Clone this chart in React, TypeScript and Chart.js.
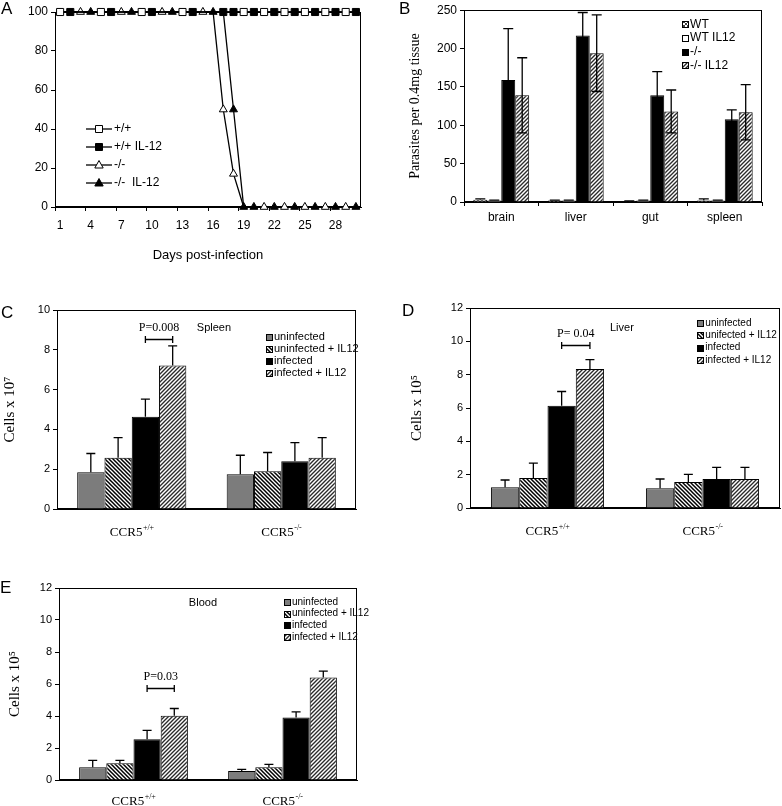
import React, { useEffect, useRef } from 'react';
import { Chart, registerables } from 'chart.js';

Chart.register(...registerables);

const SANS = "'Liberation Sans', Arial, sans-serif";
const NARROW = "'Liberation Sans Narrow', 'Liberation Sans', Arial, sans-serif";
const SERIF = "'Liberation Serif', 'Times New Roman', serif";

// ---------------- Panel A data ----------------
const daysA = ['1', '2', '3', '4', '5', '6', '7', '8', '9', '10', '11', '12', '13', '14', '15', '16', '17', '18', '19', '20', '21', '22', '23', '24', '25', '26', '27', '28', '29', '30'];
const survWT = [100, 100, 100, 100, 100, 100, 100, 100, 100, 100, 100, 100, 100, 100, 100, 100, 100, 100, 100, 100, 100, 100, 100, 100, 100, 100, 100, 100, 100, 100];
const survWTIL12 = [100, 100, 100, 100, 100, 100, 100, 100, 100, 100, 100, 100, 100, 100, 100, 100, 100, 100, 100, 100, 100, 100, 100, 100, 100, 100, 100, 100, 100, 100];
const survKO = [100, 100, 100, 100, 100, 100, 100, 100, 100, 100, 100, 100, 100, 100, 100, 100, 50, 17, 0, 0, 0, 0, 0, 0, 0, 0, 0, 0, 0, 0];
const survKOIL12 = [100, 100, 100, 100, 100, 100, 100, 100, 100, 100, 100, 100, 100, 100, 100, 100, 100, 50, 0, 0, 0, 0, 0, 0, 0, 0, 0, 0, 0, 0];
const survLabels = ['+/+', '+/+ IL-12', '-/-', '-/-  IL-12'];
// days on which each series' marker is visible (style)
const mkWT = [1, 5, 9, 13, 19, 21, 23, 25, 27, 29];
const mkWTIL12 = [2, 6, 10, 14, 17, 18, 20, 22, 24, 26, 28, 30];
const mkKO = [3, 7, 11, 15, 17, 18, 21, 23, 25, 27, 29];
const mkKOIL12 = [4, 8, 12, 16, 18, 19, 20, 22, 24, 26, 28, 30];

// ---------------- Panel B data ----------------
const organsB = ['brain', 'liver', 'gut', 'spleen'];
const parLabels = ['WT', 'WT IL12', '-/-', '-/- IL12'];
const parWT = [3, 2, 1, 2];
const parWTErr = [1, 0.5, 0.5, 2];
const parWTIL12 = [2, 2, 2, 2];
const parWTIL12Err = [0.5, 0.5, 0.5, 0.5];
const parKO = [159, 217, 139, 108];
const parKOErr = [67, 30, 31, 12];
const parKOIL12 = [139, 194, 118, 117];
const parKOIL12Err = [49, 50, 28, 36];

// ---------------- Panels C, D, E data ----------------
const genotypes = ['CCR5+/+', 'CCR5-/-'];
const cellLabelsC = ['uninfected', 'uninfected + IL12', 'infected', 'infected + IL12'];
const cellLabelsD = ['uninfected', 'unifected + IL12', 'infected', 'infected + IL12'];

const spleenUninf = [1.85, 1.74];
const spleenUninfErr = [0.94, 0.96];
const spleenUninfIL12 = [2.58, 1.9];
const spleenUninfIL12Err = [1.01, 0.94];
const spleenInf = [4.63, 2.4];
const spleenInfErr = [0.89, 0.94];
const spleenInfIL12 = [7.21, 2.58];
const spleenInfIL12Err = [0.99, 1.01];

const liverUninf = [1.24, 1.18];
const liverUninfErr = [0.44, 0.56];
const liverUninfIL12 = [1.8, 1.56];
const liverUninfIL12Err = [0.89, 0.46];
const liverInf = [6.13, 1.74];
const liverInfErr = [0.86, 0.7];
const liverInfIL12 = [8.34, 1.74];
const liverInfIL12Err = [0.56, 0.7];

const bloodUninf = [0.79, 0.56];
const bloodUninfErr = [0.44, 0.11];
const bloodUninfIL12 = [1.04, 0.79];
const bloodUninfIL12Err = [0.19, 0.19];
const bloodInf = [2.54, 3.91];
const bloodInfErr = [0.56, 0.35];
const bloodInfIL12 = [4.01, 6.4];
const bloodInfIL12Err = [0.46, 0.4];

// ---------------- helpers ----------------
function makePattern(ctx: CanvasRenderingContext2D, kind: string): CanvasPattern {
  const s = 4;
  const c = document.createElement('canvas');
  c.width = s;
  c.height = s;
  const g = c.getContext('2d')!;
  g.fillStyle = '#fff';
  g.fillRect(0, 0, s, s);
  g.beginPath();
  if (kind === 'back') {
    g.strokeStyle = '#000';
    g.lineWidth = 1.5;
    g.moveTo(-1, -1); g.lineTo(s + 1, s + 1);
    g.moveTo(-1, s - 1); g.lineTo(1, s + 1);
    g.moveTo(s - 1, -1); g.lineTo(s + 1, 1);
  } else if (kind === 'fwd') {
    g.strokeStyle = '#2a2a2a';
    g.lineWidth = 1.35;
    g.moveTo(-1, s + 1); g.lineTo(s + 1, -1);
    g.moveTo(-1, 1); g.lineTo(1, -1);
    g.moveTo(s - 1, s + 1); g.lineTo(s + 1, s - 1);
  } else {
    g.strokeStyle = '#444';
    g.lineWidth = 1;
    g.moveTo(-1, -1); g.lineTo(s + 1, s + 1);
    g.moveTo(-1, s + 1); g.lineTo(s + 1, -1);
  }
  g.stroke();
  return ctx.createPattern(c, 'repeat')!;
}

const framePlugin = {
  id: 'frame',
  beforeDatasetsDraw(chart: any) {
    const { ctx, chartArea: a } = chart;
    ctx.save();
    ctx.strokeStyle = '#000';
    ctx.lineWidth = 1;
    const l = Math.round(a.left) + 0.5;
    const t = Math.round(a.top) + 0.5;
    const r = Math.round(a.right) - 0.5;
    const b = Math.round(a.bottom) - 0.5;
    ctx.strokeRect(l, t, r - l, b - t);
    ctx.restore();
  },
};

const errorBarsPlugin = {
  id: 'errorBars',
  afterDatasetsDraw(chart: any, _args: any, opts: any) {
    if (!opts || !opts.errors) return;
    const { ctx } = chart;
    const y = chart.scales.y;
    const cap = opts.cap || 8;
    ctx.save();
    ctx.strokeStyle = '#000';
    ctx.lineWidth = 1.3;
    chart.data.datasets.forEach((ds: any, i: number) => {
      const errs = opts.errors[i];
      if (!errs) return;
      const both = opts.both ? opts.both[i] : false;
      const meta = chart.getDatasetMeta(i);
      meta.data.forEach((el: any, j: number) => {
        const v = ds.data[j];
        const e = errs[j];
        const x = el.x;
        const yt = y.getPixelForValue(v + e);
        const yb = both ? y.getPixelForValue(Math.max(0, v - e)) : el.y;
        ctx.beginPath();
        ctx.moveTo(x, yb);
        ctx.lineTo(x, yt);
        ctx.moveTo(x - cap / 2, yt);
        ctx.lineTo(x + cap / 2, yt);
        if (both) {
          ctx.moveTo(x - cap / 2, yb);
          ctx.lineTo(x + cap / 2, yb);
        }
        ctx.stroke();
      });
    });
    ctx.restore();
  },
};

const notesPlugin = {
  id: 'notes',
  afterDatasetsDraw(chart: any, _args: any, opts: any) {
    if (!opts || !opts.items) return;
    const { ctx, chartArea: a } = chart;
    const y = chart.scales.y;
    const barX = (p: number[]) => chart.getDatasetMeta(p[0]).data[p[1]].x;
    ctx.save();
    ctx.fillStyle = '#000';
    ctx.strokeStyle = '#000';
    for (const it of opts.items) {
      const yy = Math.round(y.getPixelForValue(it.y)) + 0.5;
      if (it.type === 'bracket') {
        const x1 = barX(it.from);
        const x2 = barX(it.to);
        ctx.lineWidth = 1.3;
        ctx.beginPath();
        ctx.moveTo(x1, yy); ctx.lineTo(x2, yy);
        ctx.moveTo(x1, yy - 3.5); ctx.lineTo(x1, yy + 3.5);
        ctx.moveTo(x2, yy - 3.5); ctx.lineTo(x2, yy + 3.5);
        ctx.stroke();
      } else {
        const x = it.xFrac != null ? a.left + it.xFrac * (a.right - a.left) : (barX(it.from) + barX(it.to)) / 2;
        ctx.font = it.font;
        ctx.textAlign = 'center';
        ctx.textBaseline = 'middle';
        ctx.fillText(it.text, x, yy);
      }
    }
    ctx.restore();
  },
};

const boxLegendPlugin = {
  id: 'boxLegend',
  afterDraw(chart: any, _args: any, opts: any) {
    if (!opts || opts.xFrac == null) return;
    const { ctx, chartArea: a } = chart;
    const x0 = a.left + opts.xFrac * (a.right - a.left);
    const box = opts.box || 6;
    ctx.save();
    ctx.font = opts.font;
    ctx.textBaseline = 'middle';
    ctx.textAlign = 'left';
    chart.data.datasets.forEach((ds: any, i: number) => {
      const yc = a.top + opts.top + i * opts.gap;
      const bx = Math.round(x0 - box / 2) + 0.5;
      const by = Math.round(yc - box / 2) + 0.5;
      ctx.fillStyle = ds.backgroundColor;
      ctx.fillRect(bx, by, box, box);
      ctx.strokeStyle = '#000';
      ctx.lineWidth = 1;
      ctx.strokeRect(bx, by, box, box);
      ctx.fillStyle = '#000';
      ctx.fillText(ds.label, x0 + box / 2 + 2, yc);
    });
    ctx.restore();
  },
};

const lineLegendPlugin = {
  id: 'lineLegend',
  afterDraw(chart: any, _args: any, opts: any) {
    if (!opts || opts.x == null) return;
    const { ctx, chartArea: a } = chart;
    ctx.save();
    ctx.font = opts.font;
    ctx.textBaseline = 'middle';
    ctx.textAlign = 'left';
    chart.data.datasets.forEach((ds: any, i: number) => {
      const yc = a.top + opts.top + i * opts.gap;
      const xl = a.left + opts.x;
      const xm = xl + opts.len / 2;
      ctx.strokeStyle = '#000';
      ctx.lineWidth = 1.3;
      ctx.beginPath();
      ctx.moveTo(xl, yc);
      ctx.lineTo(xl + opts.len, yc);
      ctx.stroke();
      ctx.fillStyle = ds.pointBackgroundColor;
      ctx.lineWidth = 1;
      ctx.beginPath();
      if (ds.pointStyle === 'rect') {
        ctx.rect(xm - 3.5, yc - 3.5, 7, 7);
      } else {
        ctx.moveTo(xm, yc - 4.5);
        ctx.lineTo(xm + 4.2, yc + 3);
        ctx.lineTo(xm - 4.2, yc + 3);
        ctx.closePath();
      }
      ctx.fill();
      ctx.stroke();
      ctx.fillStyle = '#000';
      ctx.fillText(ds.label, xl + opts.len + 2, yc);
    });
    ctx.restore();
  },
};

const supTicksPlugin = {
  id: 'supTicks',
  afterDraw(chart: any, _args: any, opts: any) {
    if (!opts || opts.offset == null) return;
    const { ctx, chartArea: a } = chart;
    const xs = chart.scales.x;
    const y0 = a.bottom + opts.offset;
    ctx.save();
    ctx.fillStyle = '#000';
    ctx.textAlign = 'left';
    ctx.textBaseline = 'alphabetic';
    (chart.data.labels as string[]).forEach((lab, i) => {
      const base = lab.slice(0, 4);
      const sup = lab.slice(4);
      ctx.font = `13px ${SERIF}`;
      const wb = ctx.measureText(base).width;
      ctx.font = `8px ${SERIF}`;
      const ws = ctx.measureText(sup).width;
      const cx = xs.getPixelForValue(i);
      const start = cx - (wb + ws) / 2;
      ctx.font = `13px ${SERIF}`;
      ctx.fillText(base, start, y0 + 4.5);
      ctx.font = `8px ${SERIF}`;
      ctx.fillText(sup, start + wb + 0.5, y0 - 1.5);
    });
    ctx.restore();
  },
};

const allPlugins = [framePlugin, errorBarsPlugin, notesPlugin, boxLegendPlugin, lineLegendPlugin, supTicksPlugin];

type Box = { x: number; y: number; w: number; h: number };

function ChartPanel({ box, build }: { box: Box; build: (c: HTMLCanvasElement) => Chart }) {
  const ref = useRef<HTMLCanvasElement>(null);
  useEffect(() => {
    const chart = build(ref.current!);
    return () => chart.destroy();
  }, []);
  return (
    <canvas
      ref={ref}
      width={box.w}
      height={box.h}
      style={{ position: 'absolute', left: box.x, top: box.y, width: box.w, height: box.h }}
    />
  );
}

const baseOptions = {
  responsive: false,
  animation: false as const,
  events: [] as any[],
};

function markerRadius(days: number[], r: number) {
  return daysA.map((d) => (days.includes(Number(d)) ? r : 0));
}

// ---------------- Panel A ----------------
function buildA(canvas: HTMLCanvasElement) {
  const mk = (label: string, data: number[], style: string, fill: string, days: number[]) => ({
    label,
    data,
    borderColor: '#000',
    borderWidth: 1.3,
    pointStyle: style,
    pointRadius: markerRadius(days, style === 'rect' ? 5 : 4.6),
    pointBackgroundColor: fill,
    pointBorderColor: '#000',
    pointBorderWidth: 1,
    tension: 0,
    clip: false,
  });
  return new Chart(canvas, {
    type: 'line',
    data: {
      labels: daysA,
      datasets: [
        mk(survLabels[0], survWT, 'rect', '#fff', mkWT),
        mk(survLabels[1], survWTIL12, 'rect', '#000', mkWTIL12),
        mk(survLabels[2], survKO, 'triangle', '#fff', mkKO),
        mk(survLabels[3], survKOIL12, 'triangle', '#000', mkKOIL12),
      ] as any,
    },
    options: {
      ...baseOptions,
      layout: { padding: { top: 12, right: 24, left: 0, bottom: 0 } },
      plugins: {
        legend: { display: false },
        tooltip: { enabled: false },
        lineLegend: { x: 31, len: 26, top: 117, gap: 18, font: `12px ${SANS}` },
      } as any,
      scales: {
        x: {
          offset: true,
          grid: {
            offset: true,
            drawOnChartArea: false,
            tickLength: 4,
            color: (c: any) => (c.index % 3 === 0 ? '#000' : 'rgba(0,0,0,0)'),
          },
          border: { color: '#000' },
          ticks: {
            autoSkip: false,
            maxRotation: 0,
            color: '#000',
            padding: 7,
            font: { family: SANS, size: 12 },
            callback: (_v: any, i: number) => (i % 3 === 0 ? daysA[i] : ''),
          },
          title: {
            display: true,
            text: 'Days post-infection',
            color: '#000',
            font: { family: SANS, size: 13 },
            padding: { top: 0, bottom: 7 },
          },
          afterFit: (s: any) => { s.height = 63; },
        },
        y: {
          min: 0,
          max: 100,
          grid: { drawOnChartArea: false, tickLength: 4, color: '#000' },
          border: { color: '#000' },
          ticks: { stepSize: 20, color: '#000', padding: 3, font: { family: SANS, size: 12 } },
          afterFit: (s: any) => { s.width = 55; },
        },
      } as any,
    },
    plugins: allPlugins as any,
  });
}

// ---------------- Panel B ----------------
function buildB(canvas: HTMLCanvasElement) {
  const ctx = canvas.getContext('2d')!;
  const cross = makePattern(ctx, 'cross');
  const fwd = makePattern(ctx, 'fwd');
  const bar = (label: string, data: number[], bg: any) => ({
    label,
    data,
    backgroundColor: bg,
    borderColor: '#000',
    borderWidth: 1,
    categoryPercentage: 0.75,
    barPercentage: 1,
  });
  return new Chart(canvas, {
    type: 'bar',
    data: {
      labels: organsB,
      datasets: [
        bar(parLabels[0], parWT, cross),
        bar(parLabels[1], parWTIL12, '#fff'),
        bar(parLabels[2], parKO, '#000'),
        bar(parLabels[3], parKOIL12, fwd),
      ],
    },
    options: {
      ...baseOptions,
      layout: { padding: { top: 8, right: 20, left: 0, bottom: 0 } },
      plugins: {
        legend: { display: false },
        tooltip: { enabled: false },
        errorBars: {
          errors: [parWTErr, parWTIL12Err, parKOErr, parKOIL12Err],
          both: [false, false, true, true],
          cap: 10,
        },
        boxLegend: { xFrac: 0.742, top: 14, gap: 13.7, box: 6, font: `12px ${SANS}` },
      } as any,
      scales: {
        x: {
          grid: { offset: true, drawOnChartArea: false, tickLength: 4, color: '#000' },
          border: { color: '#000' },
          ticks: { color: '#000', padding: 4, font: { family: SANS, size: 12 } },
          afterFit: (s: any) => { s.height = 30; },
        },
        y: {
          min: 0,
          max: 250,
          grid: { drawOnChartArea: false, tickLength: 4, color: '#000' },
          border: { color: '#000' },
          ticks: { stepSize: 50, color: '#000', padding: 3, font: { family: SANS, size: 12 } },
          title: {
            display: true,
            text: 'Parasites per 0.4mg tissue',
            color: '#000',
            font: { family: SERIF, size: 14 },
            padding: { top: 17, bottom: 0 },
          },
          afterFit: (s: any) => { s.width = 74; },
        },
      } as any,
    },
    plugins: allPlugins as any,
  });
}

// ---------------- Panels C, D, E ----------------
type CellCfg = {
  labels: string[];
  series: number[][];
  errors: number[][];
  max: number;
  pad: { top: number; right: number };
  yWidth: number;
  xHeight: number;
  title: string;
  titlePad: number;
  legend: { xFrac: number; top: number; gap: number; font: string };
  notes: any[];
  labelOffset: number;
};

function buildCells(canvas: HTMLCanvasElement, cfg: CellCfg) {
  const ctx = canvas.getContext('2d')!;
  const fills: any[] = ['#7c7c7c', makePattern(ctx, 'back'), '#000', makePattern(ctx, 'fwd')];
  return new Chart(canvas, {
    type: 'bar',
    data: {
      labels: genotypes,
      datasets: cfg.series.map((d, i) => ({
        label: cfg.labels[i],
        data: d,
        backgroundColor: fills[i],
        borderColor: '#000',
        borderWidth: 1,
        categoryPercentage: 0.73,
        barPercentage: 1,
      })),
    },
    options: {
      ...baseOptions,
      layout: { padding: { top: cfg.pad.top, right: cfg.pad.right, left: 0, bottom: 0 } },
      plugins: {
        legend: { display: false },
        tooltip: { enabled: false },
        errorBars: { errors: cfg.errors, cap: 9 },
        boxLegend: { ...cfg.legend, box: 6 },
        notes: { items: cfg.notes },
        supTicks: { offset: cfg.labelOffset },
      } as any,
      scales: {
        x: {
          grid: { display: false },
          border: { color: '#000' },
          ticks: { display: false },
          afterFit: (s: any) => { s.height = cfg.xHeight; },
        },
        y: {
          min: 0,
          max: cfg.max,
          grid: { drawOnChartArea: false, tickLength: 4, color: '#000' },
          border: { color: '#000' },
          ticks: { stepSize: 2, color: '#000', padding: 3, font: { family: NARROW, size: 11 } },
          title: {
            display: true,
            text: cfg.title,
            color: '#000',
            font: { family: SERIF, size: 15 },
            padding: { top: cfg.titlePad, bottom: 0 },
          },
          afterFit: (s: any) => { s.width = cfg.yWidth; },
        },
      } as any,
    },
    plugins: allPlugins as any,
  });
}

const boxA: Box = { x: 0, y: 0, w: 385, h: 270 };
const boxB: Box = { x: 390, y: 0, w: 392, h: 232 };
const boxC: Box = { x: 0, y: 290, w: 390, h: 270 };
const boxD: Box = { x: 390, y: 290, w: 392, h: 270 };
const boxE: Box = { x: 0, y: 565, w: 390, h: 241 };

const buildC = (c: HTMLCanvasElement) =>
  buildCells(c, {
    labels: cellLabelsC,
    series: [spleenUninf, spleenUninfIL12, spleenInf, spleenInfIL12],
    errors: [spleenUninfErr, spleenUninfIL12Err, spleenInfErr, spleenInfIL12Err],
    max: 10,
    pad: { top: 20, right: 34 },
    yWidth: 57,
    xHeight: 51,
    title: 'Cells x 10⁷',
    titlePad: 1,
    legend: { xFrac: 0.709, top: 27, gap: 12, font: `11px ${SANS}` },
    notes: [
      { type: 'bracket', from: [2, 0], to: [3, 0], y: 8.54 },
      { type: 'text', text: 'P=0.008', from: [2, 0], to: [3, 0], y: 9.15, font: `12px ${SERIF}` },
      { type: 'text', text: 'Spleen', xFrac: 0.525, y: 9.15, font: `11px ${SANS}` },
    ],
    labelOffset: 22,
  });

const buildD = (c: HTMLCanvasElement) =>
  buildCells(c, {
    labels: cellLabelsD,
    series: [liverUninf, liverUninfIL12, liverInf, liverInfIL12],
    errors: [liverUninfErr, liverUninfIL12Err, liverInfErr, liverInfIL12Err],
    max: 12,
    pad: { top: 18, right: 2 },
    yWidth: 80,
    xHeight: 52,
    title: 'Cells x 10⁵',
    titlePad: 18,
    legend: { xFrac: 0.743, top: 15, gap: 12.3, font: `10px ${SANS}` },
    notes: [
      { type: 'bracket', from: [2, 0], to: [3, 0], y: 9.78 },
      { type: 'text', text: 'P= 0.04', from: [2, 0], to: [3, 0], y: 10.5, font: `12px ${SERIF}` },
      { type: 'text', text: 'Liver', xFrac: 0.49, y: 10.86, font: `11px ${SANS}` },
    ],
    labelOffset: 22,
  });

const buildE = (c: HTMLCanvasElement) =>
  buildCells(c, {
    labels: cellLabelsC,
    series: [bloodUninf, bloodUninfIL12, bloodInf, bloodInfIL12],
    errors: [bloodUninfErr, bloodUninfIL12Err, bloodInfErr, bloodInfIL12Err],
    max: 12,
    pad: { top: 23, right: 33 },
    yWidth: 59,
    xHeight: 26,
    title: 'Cells x 10⁵',
    titlePad: 6,
    legend: { xFrac: 0.765, top: 14, gap: 11.7, font: `10px ${NARROW}` },
    notes: [
      { type: 'bracket', from: [2, 0], to: [3, 0], y: 5.75 },
      { type: 'text', text: 'P=0.03', from: [2, 0], to: [3, 0], y: 6.5, font: `12px ${SERIF}` },
      { type: 'text', text: 'Blood', xFrac: 0.483, y: 11.1, font: `11px ${NARROW}` },
    ],
    labelOffset: 20,
  });

const letterStyle = (x: number, y: number): React.CSSProperties => ({
  position: 'absolute',
  left: x,
  top: y,
  fontFamily: SANS,
  fontSize: 17,
  lineHeight: '17px',
  color: '#000',
});

export default function App() {
  return (
    <div style={{ position: 'absolute', left: 0, top: 0, width: 782, height: 806, background: '#fff', overflow: 'hidden' }}>
      <ChartPanel box={boxA} build={buildA} />
      <ChartPanel box={boxB} build={buildB} />
      <ChartPanel box={boxC} build={buildC} />
      <ChartPanel box={boxD} build={buildD} />
      <ChartPanel box={boxE} build={buildE} />
      <div style={letterStyle(1, 0)}>A</div>
      <div style={letterStyle(399, 0)}>B</div>
      <div style={letterStyle(1, 304)}>C</div>
      <div style={letterStyle(402, 302)}>D</div>
      <div style={letterStyle(0, 579)}>E</div>
    </div>
  );
}
